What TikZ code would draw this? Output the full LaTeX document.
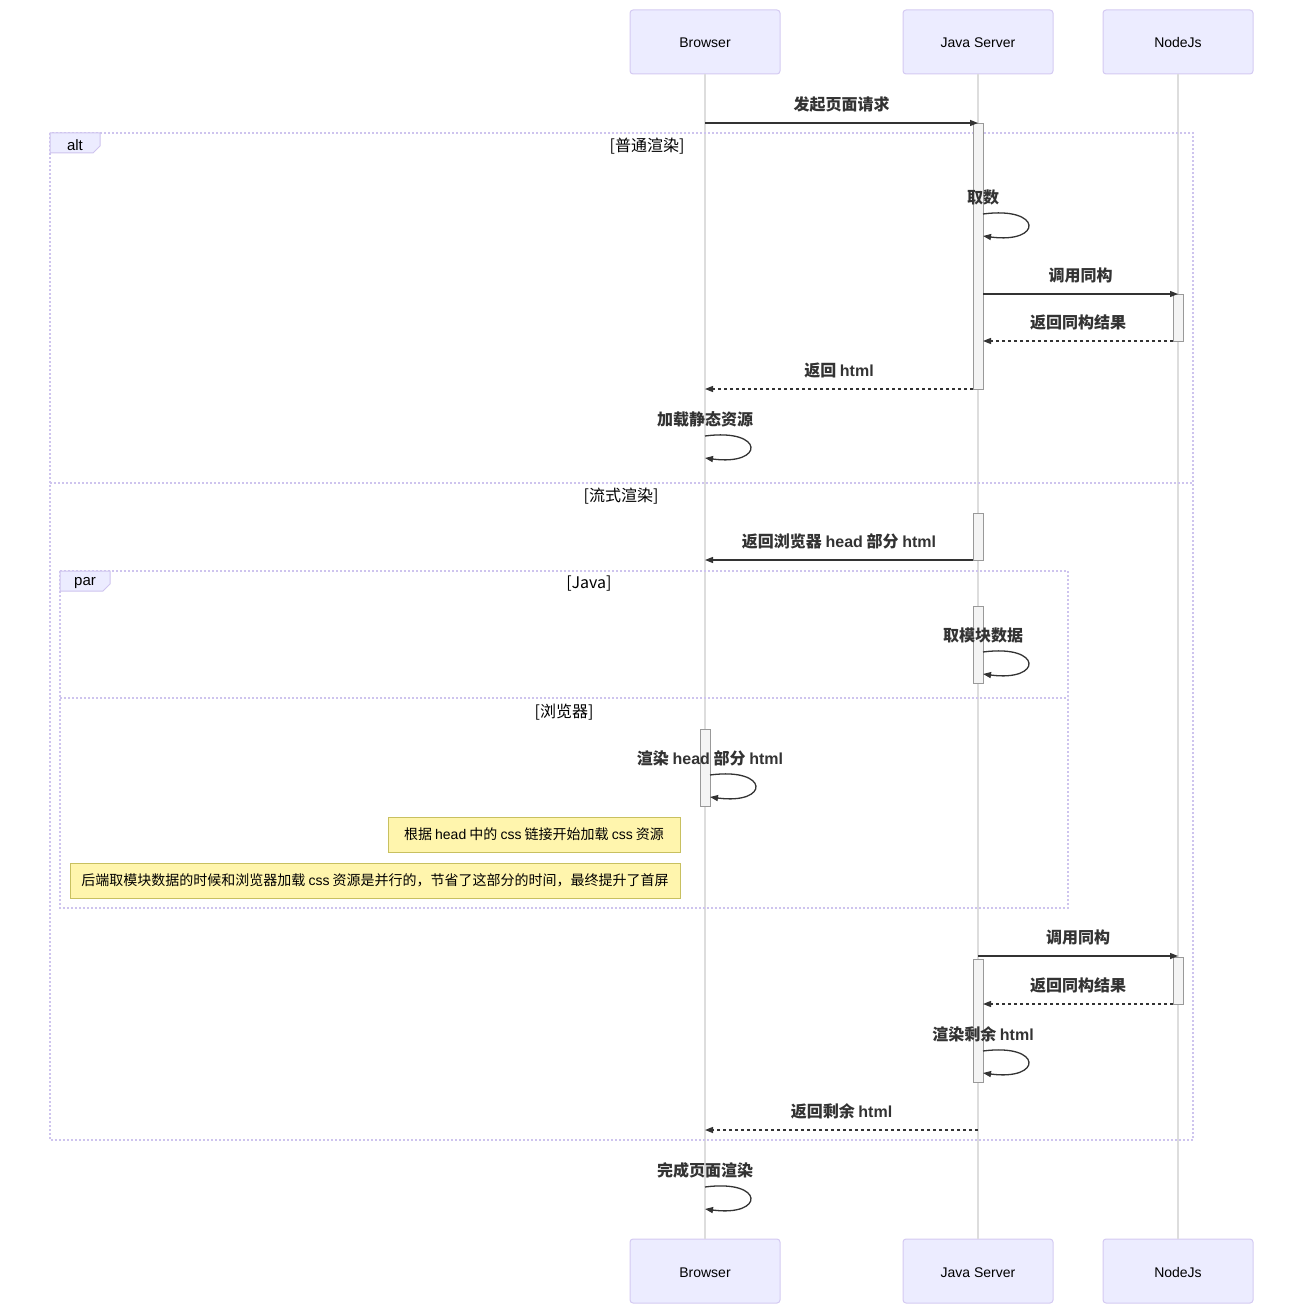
\documentclass[tikz,border=0pt]{standalone}
\usepackage{fontspec}
\setmainfont{Liberation Sans}
\newfontfamily\cjk{Noto Sans CJK SC}
\newfontfamily\lat{Liberation Sans}
\usetikzlibrary{arrows.meta,calc}

\definecolor{actfill}{HTML}{ECECFF}
\definecolor{actline}{HTML}{D4CAF2}
\definecolor{lifecol}{HTML}{DDDDDD}
\definecolor{msgcol}{HTML}{333333}
\definecolor{actbox}{HTML}{F4F4F4}
\definecolor{actedge}{HTML}{999999}
\definecolor{notefill}{HTML}{FFF5AD}
\definecolor{noteline}{HTML}{C8C060}
\definecolor{framecol}{HTML}{CEC4EE}

\tikzset{
  actor/.style={draw=actline, fill=actfill, line width=1pt, rounded corners=3pt,
    minimum width=150pt, minimum height=64pt, text height=12pt, text depth=0pt,
    font=\fontsize{14}{16}\selectfont},
  life/.style={draw=lifecol, line width=1.5pt},
  msg/.style={draw=msgcol, line width=1.3pt, -{Triangle[length=8pt,width=6pt]}},
  reply/.style={msg, dash pattern=on 3pt off 3pt},
  lbl/.style={inner sep=0pt, text=msgcol, font=\cjk\bfseries\fontsize{16}{18}\selectfont},
  sect/.style={inner sep=0pt, text=black, font=\cjk\fontsize{16}{18}\selectfont},
  frame/.style={draw=framecol, line width=1.5pt, dash pattern=on 2pt off 2pt},
  tab/.style={draw=framecol, fill=actfill, line width=1pt},
  activ/.style={draw=actedge, fill=actbox, line width=1pt},
  note/.style={draw=noteline, fill=notefill, line width=1pt, inner sep=0pt,
    minimum height=35pt, font=\cjk\fontsize{14}{16}\selectfont}
}

\begin{document}
\begin{tikzpicture}[x=1pt, y=-1pt]
  \useasboundingbox (0,0) rectangle (1303,1305);

  % actors
  \node[actor] (brT) at (705,42) {Browser};
  \node[actor] (jvT) at (978,42) {Java Server};
  \node[actor] (njT) at (1178,42) {NodeJs};
  \node[actor] (brB) at (705,1271) {Browser};
  \node[actor] (jvB) at (978,1271) {Java Server};
  \node[actor] (njB) at (1178,1271) {NodeJs};

  \draw[life] (brT) -- (brB);
  \draw[life] (jvT) -- (jvB);
  \draw[life] (njT) -- (njB);

  \coordinate (b) at (705,0);
  \coordinate (j) at (978,0);
  \coordinate (n) at (1178,0);

  % alt frame
  \draw[frame] (50,133) rectangle (1193,1140);
  \draw[frame] (50,483) -- (1193,483);
  \draw[tab] (50,133) -- (100,133) -- (100,146) -- (93,153) -- (50,153) -- cycle;
  \node[sect, font=\fontsize{15}{17}\selectfont] at (75,145) {alt};
  \node[sect] at (647,146) {[普通渲染]};
  \node[sect] at (621,496) {[流式渲染]};

  % par frame
  \draw[frame] (60,571) rectangle (1068,908);
  \draw[frame] (60,698) -- (1068,698);
  \draw[tab] (60,571) -- (110,571) -- (110,584) -- (103,591) -- (60,591) -- cycle;
  \node[sect, font=\fontsize{15}{17}\selectfont] at (85,583) {par};
  \node[sect] at (589,584) {[Java]};
  \node[sect] at (564,712) {[浏览器]};

  % activations
  \draw[activ] (973,124) rectangle (983,389);
  \draw[activ] (1173,295) rectangle (1183,341);
  \draw[activ] (973,513) rectangle (983,560);
  \draw[activ] (973,606) rectangle (983,683);
  \draw[activ] (700,729) rectangle (710,806);
  \draw[activ] (1173,957) rectangle (1183,1004);
  \draw[activ] (973,959) rectangle (983,1082);

  % normal render
  \draw[msg] ($(b)+(0,123)$) -- node[lbl, above=10.5pt] {发起页面请求} ($(j)+(0,123)$);
  \draw[msg] ($(j)+(5,214)$) node[lbl, above=8.5pt] {取数}
    .. controls +(60,-8) and +(60,8) .. ($(j)+(5,236)$);
  \draw[msg] ($(j)+(5,294)$) -- node[lbl, above=10.5pt] {调用同构} ($(n)+(0,294)$);
  \draw[reply] ($(n)+(-5,341)$) -- node[lbl, above=10.5pt] {返回同构结果} ($(j)+(5,341)$);
  \draw[reply] ($(j)+(-5,389)$) -- node[lbl, above=10.5pt] {返回 {\lat html}} ($(b)+(0,389)$);
  \draw[msg] ($(b)+(0,436)$) node[lbl, above=8.5pt] {加载静态资源}
    .. controls +(60,-8) and +(60,8) .. ($(b)+(0,458)$);

  % streaming render
  \draw[msg] ($(j)+(-5,560)$) -- node[lbl, above=10.5pt] {返回浏览器 {\lat head} 部分 {\lat html}} ($(b)+(0,560)$);
  \draw[msg] ($(j)+(5,652)$) node[lbl, above=8.5pt] {取模块数据}
    .. controls +(60,-8) and +(60,8) .. ($(j)+(5,674)$);
  \draw[msg] ($(b)+(5,775)$) node[lbl, above=8.5pt] {渲染 {\lat head} 部分 {\lat html}}
    .. controls +(60,-8) and +(60,8) .. ($(b)+(5,797)$);

  \node[note, minimum width=292pt] (n1) at (534,834.5) {根据 {\lat head} 中的 {\lat css} 链接开始加载 {\lat css} 资源};
  \node[note, minimum width=610pt] (n2) at (375,880.5) {后端取模块数据的时候和浏览器加载 {\lat css} 资源是并行的，节省了这部分的时间，最终提升了首屏};

  \draw[msg] ($(j)+(0,956)$) -- node[lbl, above=10.5pt] {调用同构} ($(n)+(0,956)$);
  \draw[reply] ($(n)+(-5,1004)$) -- node[lbl, above=10.5pt] {返回同构结果} ($(j)+(5,1004)$);
  \draw[msg] ($(j)+(5,1051)$) node[lbl, above=8.5pt] {渲染剩余 {\lat html}}
    .. controls +(60,-8) and +(60,8) .. ($(j)+(5,1073)$);
  \draw[reply] ($(j)+(0,1130)$) -- node[lbl, above=10.5pt] {返回剩余 {\lat html}} ($(b)+(0,1130)$);

  \draw[msg] ($(b)+(0,1187)$) node[lbl, above=8.5pt] {完成页面渲染}
    .. controls +(60,-8) and +(60,8) .. ($(b)+(0,1209)$);
\end{tikzpicture}
\end{document}
